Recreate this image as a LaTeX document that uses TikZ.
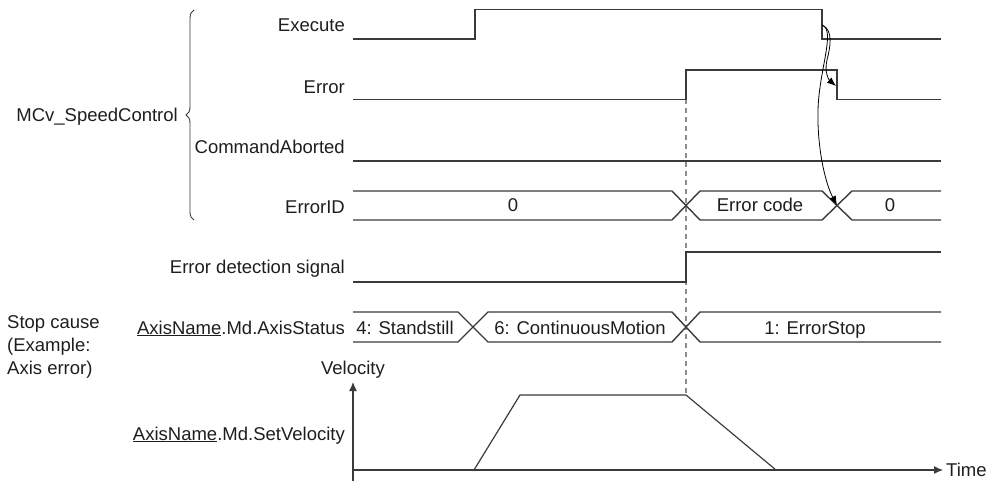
\documentclass[tikz,border=0pt]{standalone}
\usepackage{fontspec}
\setmainfont{Liberation Sans}
\usetikzlibrary{decorations.pathreplacing,arrows.meta}
\definecolor{sigc}{HTML}{3A3A3A}
\definecolor{txtc}{HTML}{1E1E1E}
\definecolor{dashc}{HTML}{8C8C8C}
\begin{document}
\begin{tikzpicture}[x=1pt,y=-1pt,
  sig/.style={draw=sigc,line width=1.4pt,line join=miter},
  lbl/.style={anchor=base east,inner sep=0pt,text=txtc,font=\fontsize{18.5}{22}\selectfont},
  val/.style={anchor=base,inner sep=0pt,text=txtc,font=\fontsize{18.5}{22}\selectfont},
  guide/.style={draw=dashc,line width=1.2pt,dash pattern=on 5pt off 4pt},
  axisline/.style={draw=sigc,line width=1.2pt,-{Latex[length=9pt,width=8pt]}},
  profile/.style={draw=sigc,line width=1.2pt},
  flow/.style={draw=black,line width=0.8pt,-{Latex[length=9pt,width=7pt]}},
  bracestyle/.style={draw=sigc,line width=0.9pt,decorate,decoration={brace,amplitude=8pt}}]
\useasboundingbox (0,0) rectangle (988,481);

% guide line
\draw[guide] (686,99.5) -- (686,395);

% labels
\node[lbl] (lexec) at (345,31.6) {Execute};
\node[lbl] (lerr) at (345,93.3) {Error};
\node[lbl] (lcab) at (345,153.3) {CommandAborted};
\node[lbl] (leid) at (345,213.3) {ErrorID};
\node[lbl] (lmcv) at (178,122) {MCv\_SpeedControl};
\node[lbl] (lerrdet) at (345,273.5) {Error detection signal};
\node[lbl] (lstatus) at (345,334) {\underline{AxisName}.Md.AxisStatus};
\node[lbl] (lsetvel) at (345,440) {\underline{AxisName}.Md.SetVelocity};
\node[anchor=base west,inner sep=0pt,text=txtc,font=\fontsize{18.5}{23}\selectfont,align=left] (lcause) at (7,374) {Stop cause\\(Example:\\Axis error)};

% brace
\draw[bracestyle] (194,220) -- (194,10);

% Execute
\draw[sig] (353,39) -- (475,39) -- (475,9.5) -- (822,9.5) -- (822,39) -- (941,39);
% Error
\draw[sig] (353,99.5) -- (686,99.5) -- (686,70) -- (837,70) -- (837,99.5) -- (941,99.5);
% CommandAborted
\draw[sig] (353,161) -- (941,161);
% ErrorID bus
\draw[sig] (353,191) -- (672,191) -- (700,220) -- (822,220) -- (852,191) -- (941,191);
\draw[sig] (353,220) -- (672,220) -- (700,191) -- (822,191) -- (852,220) -- (941,220);
\node[val] (v0a) at (513,212) {0};
\node[val] (vec) at (760,212) {Error code};
\node[val] (v0b) at (890,212) {0};

% Error detection signal
\draw[sig] (353,282) -- (686,282) -- (686,252) -- (941,252);

% AxisStatus bus
\draw[sig] (353,312) -- (458,312) -- (488,342) -- (672,342) -- (700,312) -- (941,312);
\draw[sig] (353,342) -- (458,342) -- (488,312) -- (672,312) -- (700,342) -- (941,342);
\node[val] (s4) at (405,334) {4: Standstill};
\node[val] (s6) at (580,334) {6: ContinuousMotion};
\node[val] (s1) at (815,334) {1: ErrorStop};

% velocity chart
\coordinate (vbot) at (353,481);
\coordinate (vtop) at (353,382);
\coordinate (torig) at (353,470);
\coordinate (tend) at (943,470);
\draw[axisline] (vbot) -- (vtop);
\draw[axisline] (torig) -- (tend);
\node[val] (lvel) at (353,374.6) {Velocity};
\node[anchor=base west,inner sep=0pt,text=txtc,font=\fontsize{18.5}{22}\selectfont] (ltime) at (946,476.6) {Time};
\draw[profile] (474,470) -- (520,395) -- (686,395) -- (776,470);

% curved arrows
\coordinate (exfall) at (822,25);
\coordinate (errfall) at (836,86);
\coordinate (idcross) at (837,205);
\draw[flow] (exfall) .. controls (834,30) and (830,48) .. (827,60) .. controls (824,72) and (829,80) .. (errfall);
\draw[flow] (exfall) .. controls (836,30) and (819,70) .. (818,110) .. controls (817,150) and (826,185) .. (idcross);
\end{tikzpicture}
\end{document}
